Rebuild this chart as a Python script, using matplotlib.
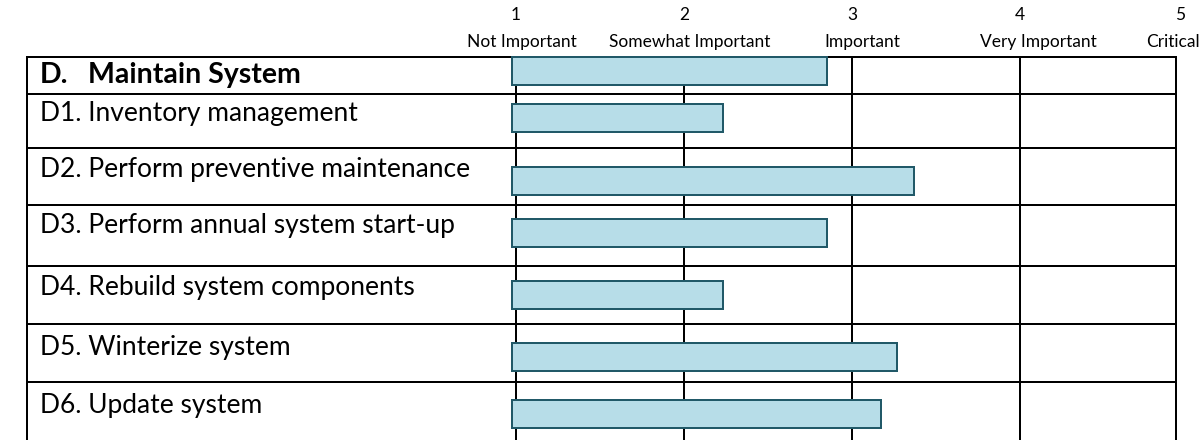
import matplotlib as mpl
import matplotlib.pyplot as plt

mpl.rcParams['font.family'] = ['Lato', 'DejaVu Sans']

# data
section_id = 'D.'
section_name = 'Maintain System'
items = ['D1. Inventory management',
         'D2. Perform preventive maintenance',
         'D3. Perform annual system start-up',
         'D4. Rebuild system components',
         'D5. Winterize system',
         'D6. Update system']
section_score = 2.85
item_scores = [2.23, 3.37, 2.85, 2.23, 3.27, 3.17]
scale_values = [1, 2, 3, 4, 5]
scale_labels = ['Not Important', 'Somewhat Important', 'Important', 'Very Important', 'Critical']

# layout (pixels, figure is 1204 x 440)
W, H = 1204, 440
PX_ONE, PX_STEP = 516, 168          # pixel position of value 1, pixels per unit
row_edges = [57, 94, 148, 205, 266, 324, 382, 440]
bar_centers = [71, 118, 181, 233, 295, 357, 414.5]
text_y = [75, 113, 169, 226, 288, 347, 406]
num_x = [516, 684, 852, 1020, 1180]
lab_x = [522, 690, 862, 1038, 1173]
table_left, table_right = 27, 1176
bar_base = 0.976
bar_h = 28


def px2v(px):
    return 1 + (px - PX_ONE) / PX_STEP


fig = plt.figure(figsize=(W / 100, H / 100), dpi=100)
ax = fig.add_axes([0, 0, 1, 1])
ax.set_xlim(px2v(0), px2v(W))
ax.set_ylim(H, 0)
ax.axis('off')

lw = 2 * 72 / 100
xl, xr = px2v(table_left), px2v(table_right)

# table grid
for y in row_edges[:-1]:
    ax.plot([xl, xr], [y, y], color='black', lw=lw, solid_capstyle='projecting', zorder=1)
ax.plot([xl, xl], [row_edges[0], H], color='black', lw=lw, zorder=1)
ax.plot([xr, xr], [row_edges[0], H], color='black', lw=lw, zorder=1)
for v in scale_values[:-1]:
    ax.plot([v, v], [row_edges[0], H], color='black', lw=lw, zorder=1)

# bars
scores = [section_score] + item_scores
ax.barh(bar_centers, [s - bar_base for s in scores], left=bar_base, height=bar_h,
        color='#b7dde8', edgecolor='#215968', linewidth=2 * 72 / 100, zorder=3)

# scale header
for v, nx, lx, lab in zip(scale_values, num_x, lab_x, scale_labels):
    ax.text(px2v(nx), 15, str(v), ha='center', va='center', fontsize=12.5, color='black')
    ax.text(px2v(lx), 42, lab, ha='center', va='center', fontsize=12.5, color='black')

# row labels
ax.text(px2v(40), text_y[0], section_id, ha='left', va='center', fontsize=20.5,
        fontweight='bold', color='black')
ax.text(px2v(88), text_y[0], section_name, ha='left', va='center', fontsize=20.5,
        fontweight='bold', color='black')
for t, y in zip(items, text_y[1:]):
    ax.text(px2v(40), y, t, ha='left', va='center', fontsize=19, color='black')

fig.savefig('out.png', dpi=100)
